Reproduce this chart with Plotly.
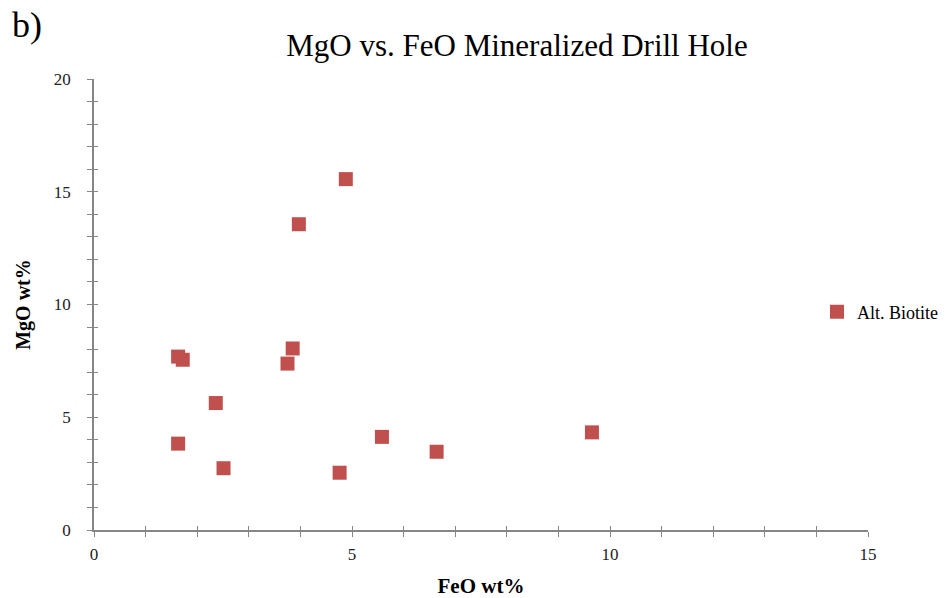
import plotly.graph_objects as go

# FeO / MgO (wt%) analyses of altered biotite from the mineralized drill hole
feo_wt = [1.63, 1.72, 2.36, 1.63, 2.51, 3.85, 3.75, 4.88, 3.97, 5.58, 6.64, 4.76, 9.65]
mgo_wt = [7.69, 7.55, 5.63, 3.83, 2.74, 8.05, 7.38, 15.56, 13.56, 4.13, 3.47, 2.54, 4.33]
series_name = "Alt. Biotite"

x_range = [0, 15]
y_range = [0, 20]

serif = "Liberation Serif"
axis_grey = "#868686"
marker_red = "#C0504D"

fig = go.Figure()
fig.add_trace(go.Scatter(
    x=feo_wt, y=mgo_wt, mode="markers", name=series_name,
    marker=dict(symbol="square", size=14, color=marker_red,
                line=dict(width=0)),
    showlegend=True,
))
# invisible trace on the overlay axes so the inner tick halves render
fig.add_trace(go.Scatter(x=[None], y=[None], xaxis="x2", yaxis="y2",
                         showlegend=False, hoverinfo="skip"))

common = dict(showgrid=False, zeroline=False, linecolor=axis_grey,
              linewidth=1.5, tickcolor=axis_grey, tickwidth=1,
              automargin=False,
              tickfont=dict(family=serif, size=17, color="#222222"))

fig.update_layout(
    width=946, height=598,
    margin=dict(l=94, r=78, t=79, b=68, autoexpand=False),
    paper_bgcolor="white", plot_bgcolor="white",
    font=dict(family=serif),
    title=dict(text="MgO vs. FeO Mineralized Drill Hole",
               font=dict(family=serif, size=31, color="black"),
               x=517 / 946, xanchor="center", y=1 - 45 / 598, yanchor="middle",
               automargin=False),
    xaxis=dict(range=x_range, dtick=5, ticks="outside", ticklen=5,
               showline=True, ticklabelstandoff=3,
               minor=dict(dtick=1, ticks="outside", ticklen=5,
                          tickcolor=axis_grey, tickwidth=1),
               title=dict(text="<b>FeO wt%</b>",
                          font=dict(family=serif, size=21, color="black"),
                          standoff=24),
               **common),
    yaxis=dict(range=y_range, dtick=5, ticks="outside", ticklen=5,
               showline=True, ticklabelstandoff=13,
               minor=dict(dtick=1, ticks="outside", ticklen=5,
                          tickcolor=axis_grey, tickwidth=1),
               title=dict(text="<b>MgO wt%</b>",
                          font=dict(family=serif, size=20, color="black"),
                          standoff=18),
               **common),
    xaxis2=dict(overlaying="x", matches="x", range=x_range, dtick=5,
                ticks="inside", ticklen=4, showticklabels=False,
                showline=False, showgrid=False, zeroline=False,
                tickcolor=axis_grey, tickwidth=1,
                minor=dict(dtick=1, ticks="inside", ticklen=4,
                           tickcolor=axis_grey, tickwidth=1)),
    yaxis2=dict(overlaying="y", matches="y", range=y_range, dtick=5,
                ticks="inside", ticklen=4, showticklabels=False,
                showline=False, showgrid=False, zeroline=False,
                tickcolor=axis_grey, tickwidth=1,
                minor=dict(dtick=1, ticks="inside", ticklen=4,
                           tickcolor=axis_grey, tickwidth=1)),
    legend=dict(x=(817 - 94) / 774, y=(530 - 312) / 451,
                xanchor="left", yanchor="middle",
                font=dict(family=serif, size=18, color="black"),
                bgcolor="rgba(0,0,0,0)", itemwidth=30),
    annotations=[dict(text="b)", xref="paper", yref="paper",
                      x=(10 - 94) / 774, y=1 + (79 - 25) / 451,
                      xanchor="left", yanchor="middle", showarrow=False,
                      font=dict(family=serif, size=36, color="black"))],
)

fig.write_html("out.html")
